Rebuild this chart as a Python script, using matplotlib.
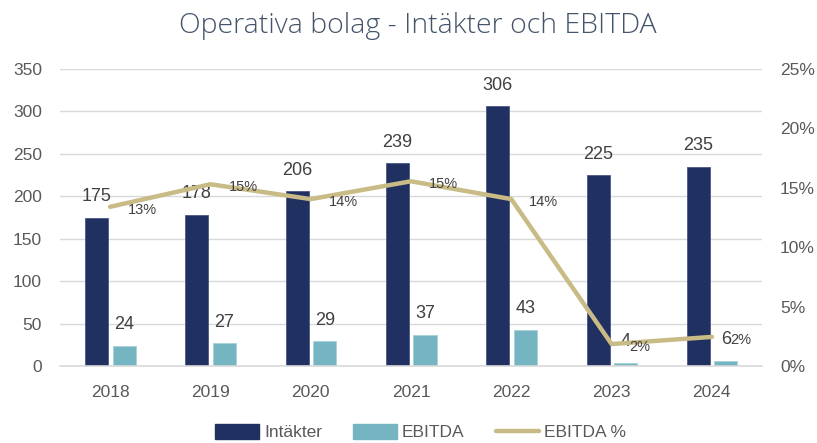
import matplotlib.pyplot as plt
import numpy as np
from matplotlib.lines import Line2D
from matplotlib.patches import Patch

plt.rcParams['font.family'] = ['Liberation Sans', 'DejaVu Sans']

# data
years = ['2018', '2019', '2020', '2021', '2022', '2023', '2024']
intakter = [175, 178, 206, 239, 306, 225, 235]
ebitda = [24, 27, 29, 37, 43, 4, 6]
ebitda_pct = [13.4, 15.3, 14.05, 15.55, 14.05, 1.85, 2.45]
pct_labels = ['13%', '15%', '14%', '15%', '14%', '2%', '2%']

navy = '#203060'
teal = '#75b5c1'
gold = '#c8bb85'
grid_c = '#d9d9d9'
txt = '#404040'
tick_c = '#595959'

fig = plt.figure(figsize=(8.17, 4.43), dpi=100)
ax = fig.add_axes([0.0734, 0.1738, 0.8593, 0.6704])
x = np.arange(len(years))

b1 = ax.bar(x - 0.135, intakter, 0.23, color=navy, edgecolor='#4a5a86', linewidth=0.6, zorder=2)
b2 = ax.bar(x + 0.14, ebitda, 0.23, color=teal, edgecolor='#a5d0d8', linewidth=0.6, zorder=2)

ax.set_xlim(-0.5, len(years) - 0.5)
ax.set_ylim(0, 350)
ax.set_yticks(range(0, 351, 50))
ax.set_xticks(x)
ax.set_xticklabels(years)
ax.grid(axis='y', color=grid_c, linewidth=1, zorder=0)
for s in ['top', 'right', 'left']:
    ax.spines[s].set_visible(False)
ax.spines['bottom'].set_color(grid_c)
ax.spines['bottom'].set_linewidth(1.2)
ax.tick_params(axis='both', length=0, labelsize=12.5, colors=tick_c)
ax.tick_params(axis='y', pad=13)
ax.tick_params(axis='x', pad=14)

for bars, vals in [(b1, intakter), (b2, ebitda)]:
    for r, v in zip(bars, vals):
        ax.annotate(str(v), (r.get_x() + r.get_width() / 2, v), xytext=(0, 21),
                    textcoords='offset pixels', ha='center', va='center',
                    fontsize=13, color=txt, zorder=5)

ax2 = ax.twinx()
ax2.set_ylim(0, 25)
ax2.set_yticks(range(0, 26, 5))
ax2.set_yticklabels([f'{t}%' for t in range(0, 26, 5)])
for s in ax2.spines.values():
    s.set_visible(False)
ax2.tick_params(axis='y', length=0, labelsize=12.5, colors=tick_c, pad=13)
ax2.plot(x, ebitda_pct, color=gold, linewidth=3.2, solid_capstyle='round',
         solid_joinstyle='round', zorder=3)
for xi, v, lab in zip(x, ebitda_pct, pct_labels):
    ax2.annotate(lab, (xi, v), xytext=(18, -3), textcoords='offset pixels',
                 ha='left', va='center', fontsize=10.5, color=txt)

fig.suptitle('Operativa bolag - Intäkter och EBITDA', x=0.511, y=0.972,
             fontsize=20.5, color='#44546a', family=['Open Sans', 'DejaVu Sans'],
             fontweight='light')

handles = [Patch(color=navy), Patch(color=teal),
           Line2D([0], [0], color=gold, linewidth=3.2, solid_capstyle='round')]
fig.legend(handles, ['Intäkter', 'EBITDA', 'EBITDA %'], loc='center',
           bbox_to_anchor=(0.515, 0.024), ncol=3, frameon=False, fontsize=12.5,
           labelcolor=tick_c, handlelength=2.5, handleheight=0.9,
           handletextpad=0.3, columnspacing=1.8)

fig.savefig('out.png', dpi=100)
